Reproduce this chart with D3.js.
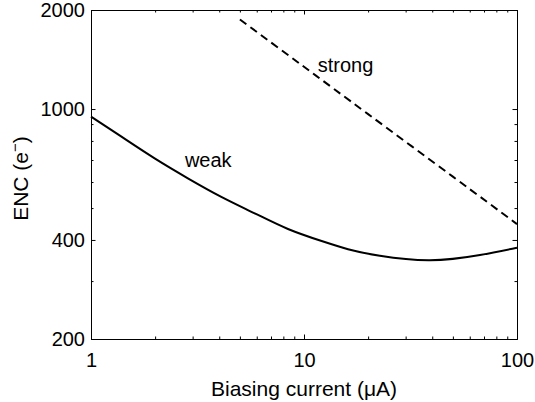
<!DOCTYPE html>
<html>
<head>
<meta charset="utf-8">
<script src="https://cdn.jsdelivr.net/npm/d3@7"></script>
<style>
  body { margin: 0; background: #fff; }
  svg { display: block; font-family: "Liberation Sans", Arial, Helvetica, sans-serif; }
</style>
</head>
<body>
<div id="chart-area"></div>
<script>
// dados (corrente em uA, ENC em eletrons)
const weakCurrent = [1, 1.39, 1.99, 2.85, 4.09, 5.87, 8.41, 12.1, 16.1, 22.7, 39, 67, 100]
const weakENC     = [948, 824, 708, 616, 541, 482, 432, 397, 375, 358, 347, 360, 379]
const strongCurrent = [5, 10, 20, 50, 100]
const strongENC     = [1872, 1344, 965, 623, 447]

const xMajorTicks = [1, 10, 100]
const xMinorTicks = [2, 3, 4, 5, 6, 7, 8, 9, 20, 30, 40, 50, 60, 70, 80, 90]
const yMajorTicks = [200, 400, 1000, 2000]
const yMinorTicks = [300, 500, 600, 700, 800, 900]

const curveLabels = [
  { text: "weak", x: 2.76, y: 667 },
  { text: "strong", x: 11.6, y: 1296 }
]

// margens
const MARGIN = { LEFT: 91, RIGHT: 18, TOP: 10, BOTTOM: 63 }
const WIDTH = 535 - MARGIN.LEFT - MARGIN.RIGHT
const HEIGHT = 402 - MARGIN.TOP - MARGIN.BOTTOM
const FONT = 20

const svg = d3.select("#chart-area").append("svg")
  .attr("width", 535)
  .attr("height", 402)

const g = svg.append("g")
  .attr("transform", `translate(${MARGIN.LEFT}, ${MARGIN.TOP})`)

const x = d3.scaleLog().domain([1, 100]).range([0, WIDTH])
const y = d3.scaleLog().domain([200, 2000]).range([HEIGHT, 0])

// eixos com ticks para dentro (estilo matlab), nos quatro lados
function styleAxis(sel) {
  sel.select(".domain").attr("stroke", "#000").attr("stroke-width", 1)
  sel.selectAll(".tick line").attr("stroke", "#000")
  sel.selectAll("text").attr("font-size", FONT).attr("fill", "#000")
  sel.attr("font-family", null)
}

const MAJ = 4.5, MIN = 2.5

g.append("g")
  .attr("transform", `translate(0, ${HEIGHT})`)
  .call(d3.axisBottom(x).tickValues(xMajorTicks).tickFormat(d3.format("d"))
    .tickSizeInner(-MAJ).tickSizeOuter(0).tickPadding(14))
  .call(styleAxis)
g.append("g")
  .attr("transform", `translate(0, ${HEIGHT})`)
  .call(d3.axisBottom(x).tickValues(xMinorTicks).tickFormat("")
    .tickSizeInner(-MIN).tickSizeOuter(0))
  .call(styleAxis)

g.append("g")
  .call(d3.axisTop(x).tickValues(xMajorTicks).tickFormat("")
    .tickSizeInner(-MAJ).tickSizeOuter(0))
  .call(styleAxis)
g.append("g")
  .call(d3.axisTop(x).tickValues(xMinorTicks).tickFormat("")
    .tickSizeInner(-MIN).tickSizeOuter(0))
  .call(styleAxis)

g.append("g")
  .call(d3.axisLeft(y).tickValues(yMajorTicks).tickFormat(d3.format("d"))
    .tickSizeInner(-MAJ).tickSizeOuter(0).tickPadding(6))
  .call(styleAxis)
g.append("g")
  .call(d3.axisLeft(y).tickValues(yMinorTicks).tickFormat("")
    .tickSizeInner(-MIN).tickSizeOuter(0))
  .call(styleAxis)

g.append("g")
  .attr("transform", `translate(${WIDTH}, 0)`)
  .call(d3.axisRight(y).tickValues(yMajorTicks).tickFormat("")
    .tickSizeInner(-MAJ).tickSizeOuter(0))
  .call(styleAxis)
g.append("g")
  .attr("transform", `translate(${WIDTH}, 0)`)
  .call(d3.axisRight(y).tickValues(yMinorTicks).tickFormat("")
    .tickSizeInner(-MIN).tickSizeOuter(0))
  .call(styleAxis)

// curvas
const weak = weakCurrent.map((c, i) => [c, weakENC[i]])
const strong = strongCurrent.map((c, i) => [c, strongENC[i]])

const line = d3.line()
  .x(d => x(d[0]))
  .y(d => y(d[1]))
  .curve(d3.curveNatural)

g.append("path")
  .datum(weak)
  .attr("d", line)
  .attr("fill", "none")
  .attr("stroke", "#000")
  .attr("stroke-width", 2)

g.append("path")
  .datum(strong)
  .attr("d", line)
  .attr("fill", "none")
  .attr("stroke", "#000")
  .attr("stroke-width", 2)
  .attr("stroke-dasharray", "8,5")

// rotulos das curvas
g.selectAll(".curve-label")
  .data(curveLabels)
  .enter().append("text")
  .attr("class", "curve-label")
  .attr("x", d => x(d.x))
  .attr("y", d => y(d.y))
  .attr("font-size", FONT)
  .text(d => d.text)

// X label
g.append("text")
  .attr("x", WIDTH / 2)
  .attr("y", HEIGHT + 57)
  .attr("font-size", 21)
  .attr("text-anchor", "middle")
  .text("Biasing current (\u03bcA)")

// Y label
const yl = g.append("text")
  .attr("x", -(HEIGHT / 2) - 4)
  .attr("y", -63)
  .attr("font-size", 21)
  .attr("text-anchor", "middle")
  .attr("transform", "rotate(-90)")
yl.append("tspan").text("ENC (e")
yl.append("tspan").attr("font-size", 15).attr("dy", -8).text("\u2212")
yl.append("tspan").attr("dy", 8).text(")")
</script>
</body>
</html>
